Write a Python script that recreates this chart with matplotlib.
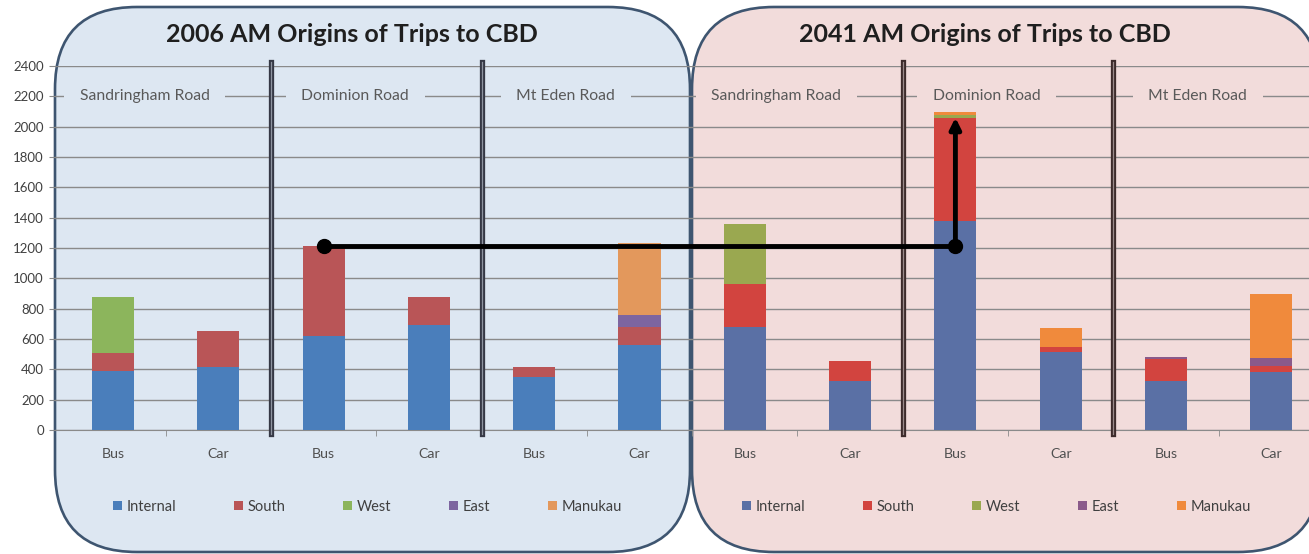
import matplotlib
matplotlib.use("Agg")
import matplotlib.pyplot as plt
from matplotlib.patches import FancyBboxPatch
from matplotlib.transforms import IdentityTransform
import numpy as np

# ---------------- data ----------------
modes = ["Bus", "Car", "Bus", "Car", "Bus", "Car"]
roads = ["Sandringham Road", "Dominion Road", "Mt Eden Road"]
series = ["Internal", "South", "West", "East", "Manukau"]
titles = ["2006 AM Origins of Trips to CBD", "2041 AM Origins of Trips to CBD"]
yticks = [0, 200, 400, 600, 800, 1000, 1200, 1400, 1600, 1800, 2000, 2200, 2400]

internal_2006 = [390, 415, 620, 690, 350, 560]
south_2006 = [120, 235, 590, 185, 65, 120]
west_2006 = [365, 0, 0, 0, 0, 0]
east_2006 = [0, 0, 0, 0, 0, 75]
manukau_2006 = [0, 0, 0, 0, 0, 475]

internal_2041 = [680, 320, 1380, 515, 320, 380]
south_2041 = [280, 135, 680, 35, 145, 40]
west_2041 = [395, 0, 15, 0, 0, 0]
east_2041 = [0, 0, 5, 0, 15, 55]
manukau_2041 = [0, 0, 15, 120, 0, 420]

colors_2006 = ["#4a7ebb", "#b95557", "#8cb55c", "#7d65a0", "#e3985c"]
colors_2041 = ["#5a70a5", "#d2443f", "#9aa850", "#8a5a8a", "#f08a3c"]

# ---------------- figure ----------------
W, H = 1309, 554
plt.rcParams["font.family"] = ["Lato", "DejaVu Sans"]
fig = plt.figure(figsize=(W / 100, H / 100), dpi=100)
fig.patch.set_facecolor("white")

bg_left = "#dde7f2"
bg_right = "#f2dcdb"
edge = "#3e5570"

def px_box(x0, y0_top, x1, y1_top, fc, r):
    b = FancyBboxPatch((x0, H - y1_top), x1 - x0, y1_top - y0_top,
                       boxstyle=f"round,pad=0,rounding_size={r}",
                       transform=IdentityTransform(), fc=fc, ec=edge,
                       lw=1.9, zorder=0)
    fig.patches.append(b)

px_box(55, 7, 690, 552, bg_left, 82)
px_box(692, 7, 1320, 552, bg_right, 82)

ax_l, ax_b = 55 / W, (H - 430) / H
ax_w, ax_h = (W - 55) / W, (430 - 66) / H
ax = fig.add_axes([ax_l, ax_b, ax_w, ax_h])
ax.set_facecolor("none")
ax.set_zorder(2)

n = len(modes)
x06 = np.arange(n)
x41 = np.arange(n) + n
bw = 0.4

handles06, handles41 = [], []
b06 = np.zeros(n)
for vals, c, name in zip([internal_2006, south_2006, west_2006, east_2006, manukau_2006],
                         colors_2006, series):
    bc = ax.bar(x06, vals, bw, bottom=b06, color=c, zorder=3, label=name)
    handles06.append(bc)
    b06 += np.array(vals)
b41 = np.zeros(n)
for vals, c, name in zip([internal_2041, south_2041, west_2041, east_2041, manukau_2041],
                         colors_2041, series):
    bc = ax.bar(x41, vals, bw, bottom=b41, color=c, zorder=3, label=name)
    handles41.append(bc)
    b41 += np.array(vals)

ax.set_ylim(0, 2400)
ax.set_xlim(-(113 - 55) / 105.3, (W - 113) / 105.3)
ax.set_yticks(yticks)
ax.yaxis.grid(True, color="#8a8a8a", lw=1.0, zorder=1)
ax.set_axisbelow(True)
ax.tick_params(axis="y", length=4, color="#8a8a8a", pad=4, labelsize=9.5, labelcolor="#404040")
ax.set_xticks(np.arange(2 * n))
ax.set_xticklabels(modes + modes)
ax.tick_params(axis="x", which="major", length=0, pad=13, labelsize=10.2, labelcolor="#505050")
ax.set_xticks(np.arange(2 * n - 1) + 0.5, minor=True)
ax.tick_params(axis="x", which="minor", length=4, color="#8a8a8a")
for s in ["top", "right", "left"]:
    ax.spines[s].set_visible(False)
ax.spines["bottom"].set_color("#8a8a8a")

# separators between roads
for k, pos in enumerate([1.5, 3.5, 7.5, 9.5]):
    dark = "#353845" if k < 2 else "#3d2b2b"
    mid = "#8e94a0" if k < 2 else "#9a8a8a"
    ax.axvline(pos, ymin=-0.01, ymax=1.01, color=dark, lw=3.8, zorder=4, clip_on=False)
    ax.axvline(pos, ymin=-0.01, ymax=1.01, color=mid, lw=0.9, zorder=4, clip_on=False)

# road labels
for p in range(2):
    bg = bg_left if p == 0 else bg_right
    for r, name in enumerate(roads):
        xc = p * n + 2 * r + 0.5 - 0.2
        ax.text(xc, 2200, name, ha="center", va="center", fontsize=11.3, color="#595959",
                zorder=2, bbox=dict(boxstyle="square,pad=1.0", fc=bg, ec="none"))

# titles
fig.text(352 / W, 1 - 35 / H, titles[0], ha="center", va="center",
         fontsize=18, fontweight="bold", color="#1f1f1f")
fig.text(985 / W, 1 - 35 / H, titles[1], ha="center", va="center",
         fontsize=18, fontweight="bold", color="#1f1f1f")

# annotation arrow: 2006 Dominion bus total -> 2041 Dominion bus
i_dom = 2
y_level = b06[i_dom]
y_top = internal_2041[i_dom] + south_2041[i_dom]
ax.plot([x06[i_dom], x41[i_dom]], [y_level, y_level], color="black", lw=3.5,
        marker="o", ms=10, zorder=6, solid_capstyle="butt")
ax.annotate("", xy=(x41[i_dom], y_top), xytext=(x41[i_dom], y_level),
            arrowprops=dict(arrowstyle="-|>", lw=3.5, color="black",
                            mutation_scale=16, shrinkA=0, shrinkB=0), zorder=6)

# legends
for hs, x0 in [(handles06, 113), (handles41, 742)]:
    lg = fig.legend(hs, series, loc="center left", bbox_to_anchor=(x0 / W, 1 - 507 / H),
                    ncol=5, frameon=False, fontsize=10.5, handlelength=0.6, handleheight=0.6,
                    handletextpad=0.3, columnspacing=4.0, borderpad=0, borderaxespad=0)
    for t in lg.get_texts():
        t.set_color("#404040")

fig.savefig("out.png", dpi=100, facecolor="white")
